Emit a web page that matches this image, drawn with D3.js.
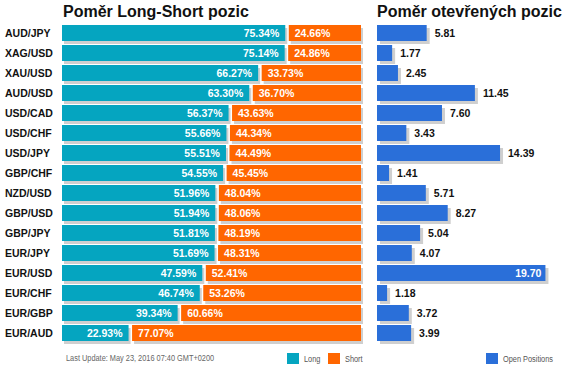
<!DOCTYPE html>
<html lang="cs">
<head>
  <meta charset="UTF-8" />
  <title>Poměr Long-Short pozic</title>
  <script src="https://d3js.org/d3.v7.min.js"></script>
  <style>
    body {
      margin: 0;
      background: #fff;
      font-family: 'Liberation Sans', Arial, sans-serif;
    }
    svg text { fill: #111; }
    .small { font-family: 'Liberation Sans', Arial, sans-serif; font-size: 9px; fill: #666; }
  </style>
</head>
<body>
  <svg id="chart" width="566" height="370"></svg>

  <script>
    const pairs = ["AUD/JPY", "XAG/USD", "XAU/USD", "AUD/USD", "USD/CAD", "USD/CHF", "USD/JPY", "GBP/CHF",
                   "NZD/USD", "GBP/USD", "GBP/JPY", "EUR/JPY", "EUR/USD", "EUR/CHF", "EUR/GBP", "EUR/AUD"];
    const longPct = [75.34, 75.14, 66.27, 63.30, 56.37, 55.66, 55.51, 54.55,
                     51.96, 51.94, 51.81, 51.69, 47.59, 46.74, 39.34, 22.93];
    const shortPct = [24.66, 24.86, 33.73, 36.70, 43.63, 44.34, 44.49, 45.45,
                      48.04, 48.06, 48.19, 48.31, 52.41, 53.26, 60.66, 77.07];
    const openPos = [5.81, 1.77, 2.45, 11.45, 7.60, 3.43, 14.39, 1.41,
                     5.71, 8.27, 5.04, 4.07, 19.70, 1.18, 3.72, 3.99];

    const teal = "#05a5c0", orange = "#ff6600", blue = "#2a6fd9", shade = "#cfcfcf";

    const data = pairs.map((p, i) => ({pair: p, long: longPct[i], short: shortPct[i], open: openPos[i]}));

    const svg = d3.select("#chart");

    const y = d3.scaleBand().domain(pairs).range([25, 341]).paddingInner(0.2).paddingOuter(0);
    const xPct = d3.scaleLinear().domain([0, 100]).range([62, 361]);
    const xOpen = d3.scaleLinear().domain([0, 20]).range([377, 548]);
    const bh = y.bandwidth();

    // titles
    svg.append("text").attr("x", 63).attr("y", 17)
      .style("font-size", "16px").style("font-weight", "bold")
      .text("Poměr Long-Short pozic");
    svg.append("text").attr("x", 377).attr("y", 17)
      .style("font-size", "16px").style("font-weight", "bold")
      .text("Poměr otevřených pozic");

    const rows = svg.selectAll("g.row").data(data).enter().append("g").attr("class", "row");

    // pair names
    rows.append("text")
      .attr("x", 5).attr("y", d => y(d.pair) + bh / 2 + 4)
      .style("font-size", "10.5px").style("font-weight", "bold")
      .text(d => d.pair);

    // long / short shadows
    rows.append("rect")
      .attr("x", xPct(0) + 2).attr("y", d => y(d.pair) + 3)
      .attr("width", d => xPct(d.long) - xPct(0) - 2).attr("height", bh)
      .attr("fill", shade);
    rows.append("rect")
      .attr("x", d => xPct(d.long) + 3.5).attr("y", d => y(d.pair) + 3)
      .attr("width", d => xPct(100) - xPct(d.long) - 1.5).attr("height", bh)
      .attr("fill", shade);

    // long / short bars
    rows.append("rect")
      .attr("x", xPct(0)).attr("y", d => y(d.pair))
      .attr("width", d => xPct(d.long) - xPct(0) - 2).attr("height", bh)
      .attr("fill", teal);
    rows.append("rect")
      .attr("x", d => xPct(d.long) + 1.5).attr("y", d => y(d.pair))
      .attr("width", d => xPct(100) - xPct(d.long) - 1.5).attr("height", bh)
      .attr("fill", orange);

    rows.append("text")
      .attr("x", d => xPct(d.long) - 8).attr("y", d => y(d.pair) + bh / 2 + 4)
      .attr("text-anchor", "end")
      .style("font-size", "10.5px").style("font-weight", "bold").style("fill", "#fff")
      .text(d => d.long.toFixed(2) + "%");
    rows.append("text")
      .attr("x", d => xPct(d.long) + 7.5).attr("y", d => y(d.pair) + bh / 2 + 4)
      .style("font-size", "10.5px").style("font-weight", "bold").style("fill", "#fff")
      .text(d => d.short.toFixed(2) + "%");

    // open positions
    rows.append("rect")
      .attr("x", xOpen(0) + 3).attr("y", d => y(d.pair) + 3)
      .attr("width", d => xOpen(d.open) - xOpen(0)).attr("height", bh)
      .attr("fill", shade);
    rows.append("rect")
      .attr("x", xOpen(0)).attr("y", d => y(d.pair))
      .attr("width", d => xOpen(d.open) - xOpen(0)).attr("height", bh)
      .attr("fill", blue);

    const maxOpen = d3.max(openPos);
    rows.append("text")
      .attr("x", d => d.open === maxOpen ? xOpen(d.open) - 4 : xOpen(d.open) + 8)
      .attr("y", d => y(d.pair) + bh / 2 + 4)
      .attr("text-anchor", d => d.open === maxOpen ? "end" : "start")
      .style("font-size", "10.5px").style("font-weight", "bold")
      .style("fill", d => d.open === maxOpen ? "#fff" : "#111")
      .text(d => d.open.toFixed(2));

    // footer (narrow look: squeeze horizontally)
    svg.append("text").attr("class", "small")
      .attr("transform", "translate(66,361) scale(0.82,1)")
      .text("Last Update: May 23, 2016 07:40 GMT+0200");

    const legend = [
      {label: "Long", color: teal, x: 287},
      {label: "Short", color: orange, x: 328},
      {label: "Open Positions", color: blue, x: 486}
    ];
    const lg = svg.selectAll("g.legend").data(legend).enter().append("g").attr("class", "legend");
    lg.append("rect").attr("x", d => d.x).attr("y", 353).attr("width", 12).attr("height", 11)
      .attr("fill", d => d.color);
    lg.append("text").attr("class", "small")
      .attr("transform", d => `translate(${d.x + 17},362) scale(0.82,1)`)
      .style("fill", "#555").text(d => d.label);
  </script>
</body>
</html>
